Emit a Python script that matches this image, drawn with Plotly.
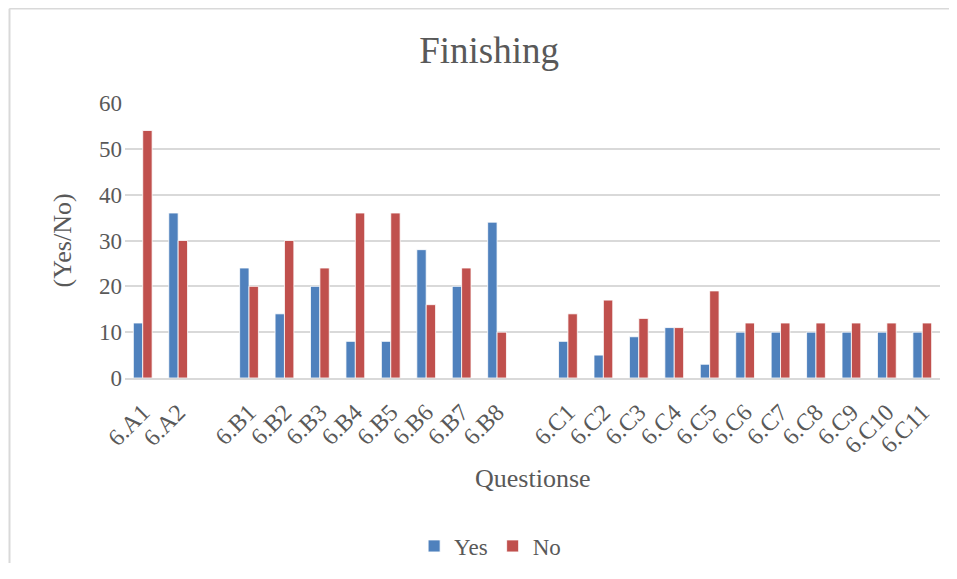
import plotly.graph_objects as go

categories = ["6.A1", "6.A2", " ", "6.B1", "6.B2", "6.B3", "6.B4", "6.B5", "6.B6", "6.B7", "6.B8", "  ",
              "6.C1", "6.C2", "6.C3", "6.C4", "6.C5", "6.C6", "6.C7", "6.C8", "6.C9", "6.C10", "6.C11"]
yes_values = [12, 36, None, 24, 14, 20, 8, 8, 28, 20, 34, None,
              8, 5, 9, 11, 3, 10, 10, 10, 10, 10, 10]
no_values = [54, 30, None, 20, 30, 24, 36, 36, 16, 24, 10, None,
             14, 17, 13, 11, 19, 12, 12, 12, 12, 12, 12]
y_ticks = [0, 10, 20, 30, 40, 50, 60]

FONT = "Liberation Serif, Times New Roman, serif"
GREY = "#595959"

fig = go.Figure()
fig.add_trace(go.Bar(name="Yes", x=categories, y=yes_values, marker_color="#4F81BD",
                     marker_line=dict(color="rgba(255,255,255,0.8)", width=1)))
fig.add_trace(go.Bar(name="No", x=categories, y=no_values, marker_color="#C0504D",
                     marker_line=dict(color="rgba(255,255,255,0.8)", width=1)))

fig.update_layout(
    width=949, height=555,
    paper_bgcolor="white", plot_bgcolor="white",
    margin=dict(l=117, r=17, t=95, b=185),
    barmode="group", bargap=0.47, bargroupgap=0.0,
    font=dict(family=FONT, color=GREY, size=23),
    title=dict(text="Finishing", xref="container", x=0.507, xanchor="center",
               yref="container", y=1 - 42 / 555, yanchor="middle",
               font=dict(family=FONT, size=37, color=GREY)),
    legend=dict(orientation="h", x=0.448, xanchor="center", yref="container", y=1 - 538 / 555,
                yanchor="middle", font=dict(family=FONT, size=23, color=GREY), itemwidth=30,
                traceorder="normal"),
    xaxis=dict(type="category", categoryorder="array", categoryarray=categories, automargin=False,
               tickangle=-45, tickfont=dict(family=FONT, size=24, color=GREY), ticklabelstandoff=9,
               showgrid=False, showline=True, linecolor="#D9D9D9", linewidth=1.5, ticks=""),
    yaxis=dict(range=[0, 60], tickvals=y_ticks, showgrid=True, gridcolor="#D9D9D9", gridwidth=1.5,
               zeroline=False, tickfont=dict(family=FONT, size=23, color=GREY), ticks="", ticklen=0,
               ticklabelstandoff=2, automargin=False),
)
fig.add_annotation(text="Questionse", xref="paper", yref="paper", x=0.5, y=-0.364,
                   xanchor="center", yanchor="middle", showarrow=False,
                   font=dict(family=FONT, size=26, color=GREY))
fig.add_annotation(text="(Yes/No)", xref="paper", yref="paper", x=-0.0773, y=0.5,
                   xanchor="center", yanchor="middle", textangle=-90, showarrow=False,
                   font=dict(family=FONT, size=26, color=GREY))
# chart-area border (top and left edges visible in the reference)
fig.add_shape(type="line", xref="paper", yref="paper", x0=-0.142, x1=1.05, y0=1.343, y1=1.343,
              line=dict(color="#D9D9D9", width=1.5))
fig.add_shape(type="line", xref="paper", yref="paper", x0=-0.1417, x1=-0.1417, y0=1.343, y1=-0.75,
              line=dict(color="#D9D9D9", width=2))

fig.write_html("out.html")
